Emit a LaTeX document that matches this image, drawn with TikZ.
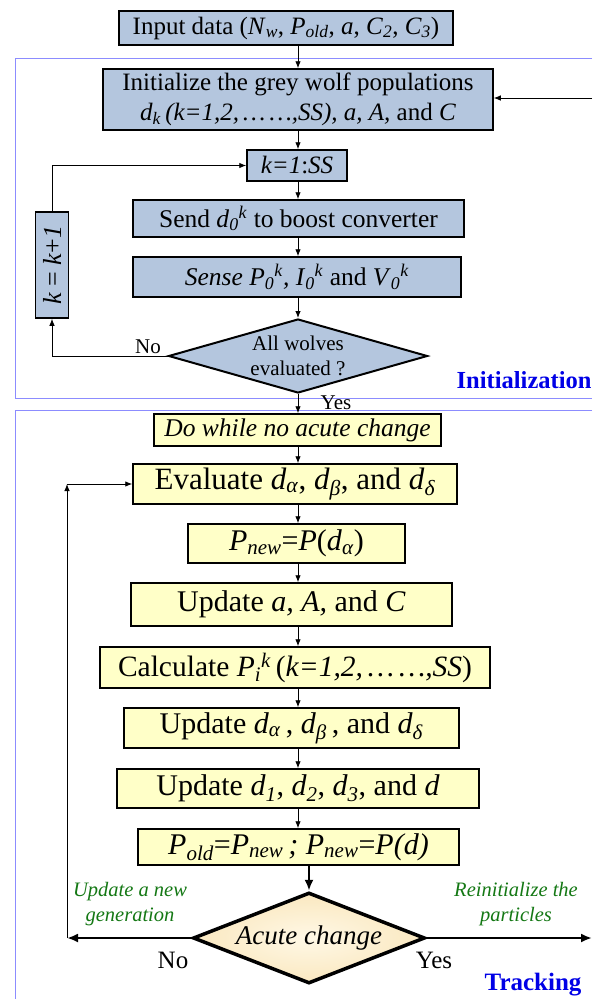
\documentclass[tikz,border=0pt]{standalone}
\usepackage{amsmath}
\usepackage{graphicx}
\usepackage{fontspec}
\setmainfont{Liberation Serif}
\usetikzlibrary{shapes.geometric,arrows.meta}
\definecolor{initfill}{RGB}{180,198,222}
\definecolor{trackfill}{RGB}{255,255,200}
\definecolor{acutefill}{RGB}{250,232,192}
\definecolor{acuteinner}{RGB}{255,248,230}
\definecolor{framecol}{RGB}{140,140,255}
\definecolor{notegreen}{RGB}{20,120,20}
\definecolor{titleblue}{RGB}{0,0,230}
\newcommand\fsz[2]{\fontsize{#1}{#2}\selectfont}
% italic subscript followed by an italic superscript
\newcommand\dsup[2]{\textsubscript{\textit{#2}}\textsuperscript{\textit{#1}}}
\newcommand\isub[1]{\textsubscript{\textit{#1}}}

\begin{document}
\begin{tikzpicture}[x=1pt,y=-1pt,
  box/.style={draw, line width=1.5pt, inner sep=0pt, align=center},
  ibox/.style={box, fill=initfill, font=\fsz{25}{29}},
  tbox/.style={box, fill=trackfill, font=\fsz{30}{34}},
  arr/.style={-{Latex[length=7pt,width=5.5pt]}, line width=0.9pt},
  bigarr/.style={-{Latex[length=11pt,width=9pt]}, line width=2.2pt},
  framecol/.style={draw=framecol, line width=0.8pt},
  note/.style={text=notegreen, font=\fsz{20.5}{25}\itshape, align=center},
  title/.style={text=titleblue, font=\fsz{24.5}{28}\bfseries},
]
\useasboundingbox (0,0) rectangle (592,999);
\fill[white] (0,0) rectangle (592,999);

% section frames (open to the right and bottom)
\draw[framecol] (592,58) -- (15,58) -- (15,398) -- (592,398);
\draw[framecol] (592,410) -- (15,410) -- (15,999);

% main flow column
\coordinate (ax) at (298,0);
\coordinate (lx) at (67,0);
\coordinate (rx) at (592,0);

% ---------------- initialization stage ----------------
\node[ibox, minimum width=334pt, minimum height=34pt] (inp) at (286,28)
  {Input data (\textit{N}\isub{w}, \textit{P}\isub{old}, \textit{a}, \textit{C}\isub{2}, \textit{C}\isub{3})};
\node[ibox, minimum width=390pt, minimum height=61pt, font=\fsz{25}{30}] (init) at (298,99.5)
  {Initialize the grey wolf populations\\ \textit{d}\isub{k}\,\textit{(k=1,2,\,…\,…,SS), a, A,} and \textit{C}};
\node[ibox, minimum width=100pt, minimum height=31pt] (k1) at (297,165.5)
  {\textit{k=1}:\textit{SS}};
\node[ibox, minimum width=331pt, minimum height=37pt, font=\fsz{25.5}{29}] (send) at (298.5,218.5)
  {Send \textit{d}\dsup{k}{0} to boost converter};
\node[ibox, minimum width=328pt, minimum height=40pt, font=\fsz{25.5}{29}] (sense) at (297,277)
  {\textit{Sense P}\dsup{k}{0}\textit{, I}\dsup{k}{0} and \textit{V}\dsup{k}{0}};
\node[draw, diamond, line width=2pt, fill=initfill, inner sep=0pt, aspect=3.5,
  minimum width=259pt, minimum height=74pt, align=center, font=\fsz{21}{25}] (eval1) at (298,356)
  {All wolves\\evaluated ?};
\node[ibox, minimum width=33pt, minimum height=106pt, font=\fsz{26}{29}] (kk) at (52,265)
  {\rotatebox{90}{\textit{k} = \textit{k}+\textit{1}}};

\draw[arr] (inp.south -| ax) -- (init.north -| ax);
\draw[arr] (init.south -| ax) -- (k1.north -| ax);
\draw[arr] (k1.south -| ax) -- (send.north -| ax);
\draw[arr] (send.south -| ax) -- (sense.north -| ax);
\draw[arr] (sense.south -| ax) -- (eval1.north);
\draw[arr] (eval1.west) -| (kk.south);
\draw[arr] (kk.north) |- (k1.west);
\coordinate (rin) at (592,98);
\draw[arr] (rin) -- (init.east |- rin);

\node[font=\fsz{21}{24}] (no1) at (148,347) {No};
\node[font=\fsz{21}{24}] (yes1) at (336,403) {Yes};
\node[title, anchor=east] (tinit) at (595,380) {Initialization};

% ---------------- tracking stage ----------------
\node[tbox, minimum width=287pt, minimum height=32pt, font=\fsz{25.5}{29}\itshape] (dowhile) at (297.5,430)
  {Do while no acute change};
\node[tbox, minimum width=324pt, minimum height=40pt, font=\fsz{31}{34}] (evalg) at (295,484)
  {Evaluate \textit{d}\isub{α}, \textit{d}\isub{β}, and \textit{d}\isub{δ}};
\node[tbox, minimum width=217pt, minimum height=39pt] (pnew) at (296.5,543.5)
  {\textit{P}\isub{new}=\textit{P}(\textit{d}\isub{α})};
\node[tbox, minimum width=321pt, minimum height=43pt] (upda) at (291.5,604.5)
  {Update \textit{a, A,} and \textit{C}};
\node[tbox, minimum width=390pt, minimum height=41pt, font=\fsz{29.5}{34}] (calc) at (295,667.5)
  {Calculate \textit{P}\dsup{k}{i}\,(\textit{k=1,2,\,…\,…,SS})};
\node[tbox, minimum width=335pt, minimum height=40pt] (updd) at (291.5,728)
  {Update \textit{d}\isub{α}\,, \textit{d}\isub{β}\,, and \textit{d}\isub{δ}};
\node[tbox, minimum width=362pt, minimum height=39pt] (updn) at (298,788.5)
  {Update \textit{d}\isub{1}, \textit{d}\isub{2}, \textit{d}\isub{3}, and \textit{d}};
\node[tbox, minimum width=321pt, minimum height=36pt, font=\fsz{30}{34}\itshape] (pold) at (298.5,847)
  {P\isub{old}\textup{=}P\isub{new}\,; P\isub{new}\textup{=}P(d)};
\node[draw, diamond, line width=3.5pt, inner color=acuteinner, outer color=acutefill,
  inner sep=0pt, aspect=2.5, minimum width=232pt, minimum height=91pt,
  font=\fsz{27}{30}\itshape] (acute) at (309,938) {Acute change};

\draw[arr] (eval1.south) -- (dowhile.north -| eval1);
\draw[arr] (dowhile.south -| ax) -- (evalg.north -| ax);
\draw[arr] (evalg.south -| ax) -- (pnew.north -| ax);
\draw[arr] (pnew.south -| ax) -- (upda.north -| ax);
\draw[arr] (upda.south -| ax) -- (calc.north -| ax);
\draw[arr] (calc.south -| ax) -- (updd.north -| ax);
\draw[arr] (updd.south -| ax) -- (updn.north -| ax);
\draw[arr] (updn.south -| ax) -- (pold.north -| ax);
\draw[bigarr] (pold.south -| acute) -- (acute.north);
\draw[bigarr] (acute.west) -- (acute.west -| lx);
\draw[arr] (acute.west -| lx) -- (evalg.west -| lx);
\draw[arr] (evalg.west -| lx) -- (evalg.west);
\draw[bigarr] (acute.east) -- (acute.east -| rx);

\node[note] (nnew) at (130,904) {Update a new\\generation};
\node[note] (nre) at (516,904) {Reinitialize the\\particles};
\node[font=\fsz{25}{28}] (no2) at (173,960) {No};
\node[font=\fsz{25}{28}] (yes2) at (434,960) {Yes};
\node[title, font=\fsz{25}{28}\bfseries, anchor=east] (ttrack) at (585,985) {Tracking};
\end{tikzpicture}
\end{document}
